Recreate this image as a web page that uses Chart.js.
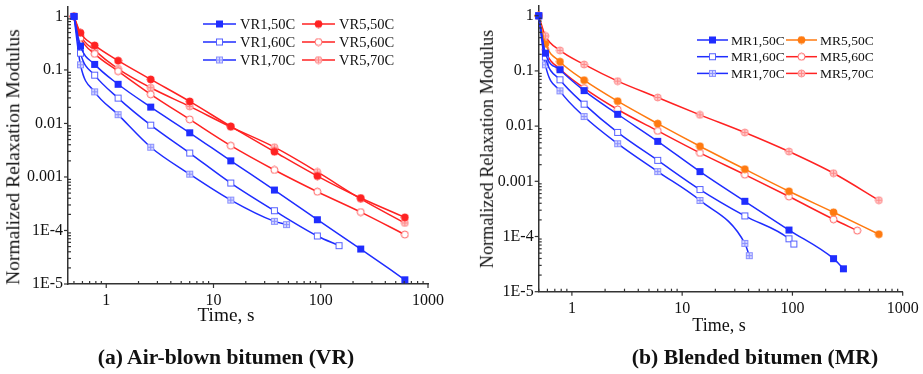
<!DOCTYPE html>
<html>
<head>
<meta charset="utf-8">
<script src="https://cdn.jsdelivr.net/npm/chart.js@4.4.1/dist/chart.umd.min.js"></script>
<style>
  body { margin: 0; width: 923px; height: 374px; background: #fff; position: relative; overflow: hidden;
         font-family: "Liberation Serif", "Times New Roman", serif; color: #111; }
  canvas { position: absolute; top: 0; }
  .lbl { position: absolute; white-space: nowrap; transform: translate(-50%, -50%); line-height: 1; }
  .rot { transform: translate(-50%, -50%) rotate(-90deg); }
  .cap { font-weight: bold; }
</style>
</head>
<body>
<canvas id="vrChart" width="460" height="312" style="left:0"></canvas>
<canvas id="mrChart" width="463" height="320" style="left:460px"></canvas>

<div class="lbl rot" style="left:13px;top:157px;font-size:19.5px">Normalized Relaxation Modulus</div>
<div class="lbl" style="left:226px;top:315px;font-size:19.3px">Time, s</div>
<div class="lbl cap" style="left:226px;top:358px;font-size:21.6px">(a) Air-blown bitumen (VR)</div>

<div class="lbl rot" style="left:487px;top:149px;font-size:18.2px">Normalized Relaxation Modulus</div>
<div class="lbl" style="left:719px;top:325px;font-size:18px">Time, s</div>
<div class="lbl cap" style="left:755px;top:358px;font-size:21.7px">(b) Blended bitumen (MR)</div>

<script>
// ---- data (time in s, normalized modulus) ----
const times = [0.5, 0.575, 0.78, 1.29, 2.6, 6, 14.5, 37, 93, 236, 608];

// (a) air-blown bitumen
const VR1_50C = [1, 0.28, 0.127, 0.054, 0.0202, 0.0067, 0.0020, 0.00057, 1.59e-4, 4.5e-5, 1.2e-5];
const VR1_60C_t = [0.5, 0.575, 0.78, 1.29, 2.6, 6, 14.5, 37, 93, 148];
const VR1_60C = [1, 0.206, 0.080, 0.0298, 0.0093, 0.0028, 7.7e-4, 2.34e-4, 7.9e-5, 5.2e-5];
const VR1_70C_t = [0.5, 0.575, 0.78, 1.29, 2.6, 6, 14.5, 37, 48];
const VR1_70C = [1, 0.125, 0.039, 0.0146, 0.0036, 0.00113, 3.7e-4, 1.48e-4, 1.29e-4];
const VR5_50C = [1, 0.495, 0.287, 0.149, 0.0666, 0.0258, 0.0088, 0.00296, 0.00104, 4.04e-4, 1.76e-4];
const VR5_60C = [1, 0.40, 0.20, 0.095, 0.035, 0.0119, 0.00384, 0.00135, 5.3e-4, 2.21e-4, 8.4e-5];
const VR5_70C = [1, 0.44, 0.232, 0.105, 0.0465, 0.0208, 0.0086, 0.0036, 0.00124, 3.9e-4, 1.38e-4];

// (b) blended bitumen
const MR1_50C_t = [0.5, 0.575, 0.78, 1.29, 2.6, 6, 14.5, 37, 93, 236, 290];
const MR1_50C = [1, 0.21, 0.105, 0.044, 0.0164, 0.0053, 0.0015, 4.35e-4, 1.31e-4, 3.97e-5, 2.6e-5];
const MR1_60C_t = [0.5, 0.575, 0.78, 1.29, 2.6, 6, 14.5, 37, 93, 103];
const MR1_60C = [1, 0.178, 0.069, 0.025, 0.0077, 0.0024, 7.1e-4, 2.36e-4, 9.1e-5, 7.3e-5];
const MR1_70C_t = [0.5, 0.575, 0.78, 1.29, 2.6, 6, 14.5, 37, 40.6];
const MR1_70C = [1, 0.129, 0.0435, 0.0149, 0.0048, 0.0015, 4.5e-4, 7.5e-5, 4.5e-5];
const MR5_50C = [1, 0.31, 0.147, 0.068, 0.0283, 0.0111, 0.00432, 0.00166, 6.6e-4, 2.75e-4, 1.1e-4];
const MR5_60C_t = [0.5, 0.575, 0.78, 1.29, 2.6, 6, 14.5, 37, 93, 236, 387];
const MR5_60C = [1, 0.245, 0.109, 0.0488, 0.02, 0.0082, 0.00327, 0.00132, 5.3e-4, 2.05e-4, 1.28e-4];
const MR5_70C = [1, 0.43, 0.235, 0.131, 0.0653, 0.033, 0.016, 0.00766, 0.00346, 0.0014, 4.54e-4];

const xTickValues = [1, 10, 100, 1000];
const xTickLabels = ['1', '10', '100', '1000'];
const yTickValues = [1e-5, 1e-4, 1e-3, 1e-2, 0.1, 1];
const yTickLabels = ['1E-5', '1E-4', '0.001', '0.01', '0.1', '1'];

// ---- styling ----
const BLUE = '#1f2dff', RED = '#ff2222', ORANGE = '#ff7a10';

function marker(shape, fill, stroke, cross) {
  const c = document.createElement('canvas');
  c.width = c.height = 9;
  const g = c.getContext('2d');
  g.lineWidth = 1;
  g.fillStyle = fill;
  g.strokeStyle = stroke;
  if (shape === 'square') {
    g.fillRect(1, 1, 7, 7);
    g.strokeRect(1.5, 1.5, 6, 6);
  } else {
    g.beginPath();
    g.arc(4.5, 4.5, 3.5, 0, Math.PI * 2);
    g.fill();
    g.stroke();
  }
  if (cross) {
    g.beginPath();
    g.moveTo(4.5, 1.5); g.lineTo(4.5, 7.5);
    g.moveTo(1.5, 4.5); g.lineTo(7.5, 4.5);
    g.stroke();
  }
  return c;
}

function series(label, xs, ys, color, pt) {
  return {
    label: label,
    data: xs.map((t, i) => ({ x: t, y: ys[i] })),
    borderColor: color,
    backgroundColor: color,
    borderWidth: 1.5,
    pointStyle: pt,
    pointRadius: 4,
    cubicInterpolationMode: 'monotone',
    clip: false
  };
}

// tick marks: majors outward, minors inward
const axisDecor = {
  id: 'axisDecor',
  afterDraw(chart) {
    const { ctx, chartArea: a, scales: { x, y } } = chart;
    ctx.save();
    ctx.strokeStyle = '#333';
    ctx.lineWidth = 1.2;
    for (let e = -1; e <= 3; e++) {
      for (let m = 1; m < 10; m++) {
        const v = m * Math.pow(10, e);
        if (v < x.min - 1e-9 || v > x.max + 1e-9) continue;
        const px = x.getPixelForValue(v);
        ctx.beginPath();
        ctx.moveTo(px, a.bottom);
        ctx.lineTo(px, m === 1 ? a.bottom + 4 : a.bottom - 3);
        ctx.stroke();
      }
    }
    for (let e = -5; e <= 0; e++) {
      for (let m = 1; m < 10; m++) {
        const v = m * Math.pow(10, e);
        if (v < y.min * 0.999 || v > y.max) continue;
        const py = y.getPixelForValue(v);
        ctx.beginPath();
        ctx.moveTo(a.left, py);
        ctx.lineTo(m === 1 ? a.left - 4 : a.left + 3, py);
        ctx.stroke();
      }
    }
    ctx.restore();
  }
};

// two-column legend inside the plot
const boxLegend = {
  id: 'boxLegend',
  afterDraw(chart, args, opts) {
    const ctx = chart.ctx;
    ctx.save();
    ctx.font = opts.font;
    ctx.fillStyle = '#111';
    ctx.textBaseline = 'middle';
    chart.data.datasets.forEach((ds, i) => {
      const col = Math.floor(i / 3), row = i % 3;
      const x0 = opts.x[col], y0 = opts.y0 + row * opts.dy;
      ctx.strokeStyle = ds.borderColor;
      ctx.lineWidth = ds.borderWidth;
      ctx.beginPath();
      ctx.moveTo(x0, y0);
      ctx.lineTo(x0 + opts.len, y0);
      ctx.stroke();
      const img = ds.pointStyle;
      ctx.drawImage(img, x0 + opts.len / 2 - img.width / 2, y0 - img.height / 2);
      ctx.fillText(ds.label, x0 + opts.len + opts.gap, y0 + 1);
    });
    ctx.restore();
  }
};

function makeChart(id, datasets, xMin, yWidth, xHeight, padding, legend) {
  return new Chart(document.getElementById(id), {
    type: 'line',
    data: { datasets: datasets },
    options: {
      responsive: false,
      animation: false,
      devicePixelRatio: 1,
      layout: { padding: padding },
      plugins: { legend: { display: false }, tooltip: { enabled: false }, boxLegend: legend },
      scales: {
        x: {
          type: 'logarithmic',
          min: xMin, max: 1000,
          grid: { display: false, drawTicks: false },
          border: { display: true, color: '#333', width: 1.5 },
          afterBuildTicks: s => { s.ticks = xTickValues.map(v => ({ value: v })); },
          afterFit: s => { s.height = xHeight; s.paddingLeft = 0; s.paddingRight = 0; },
          ticks: {
            autoSkip: false, maxRotation: 0, padding: 7, color: '#111',
            font: { family: 'Liberation Serif', size: 16 },
            callback: v => xTickLabels[xTickValues.indexOf(v)]
          }
        },
        y: {
          type: 'logarithmic',
          min: 1e-5, max: 1.5,
          grid: { display: false, drawTicks: false },
          border: { display: true, color: '#333', width: 1.5 },
          afterBuildTicks: s => { s.ticks = yTickValues.map(v => ({ value: v })); },
          afterFit: s => { s.width = yWidth; s.paddingTop = 0; s.paddingBottom = 0; },
          ticks: {
            autoSkip: false, padding: 5, color: '#111',
            font: { family: 'Liberation Serif', size: 16 },
            callback: v => yTickLabels[yTickValues.indexOf(v)]
          }
        }
      }
    },
    plugins: [axisDecor, boxLegend]
  });
}

makeChart('vrChart', [
  series('VR1,50C', times, VR1_50C, BLUE, marker('square', BLUE, BLUE, false)),
  series('VR1,60C', VR1_60C_t, VR1_60C, BLUE, marker('square', '#fff', '#5560ff', false)),
  series('VR1,70C', VR1_70C_t, VR1_70C, BLUE, marker('square', '#d4d6ff', '#8a90ff', true)),
  series('VR5,50C', times, VR5_50C, RED, marker('circle', RED, RED, false)),
  series('VR5,60C', times, VR5_60C, RED, marker('circle', '#fff', '#ff6060', false)),
  series('VR5,70C', times, VR5_70C, RED, marker('circle', '#ffc8c8', '#ff8a8a', true))
], 0.44, 68, 28, { top: 7, right: 32, left: 0, bottom: 0 },
  { x: [203, 302], y0: 24, dy: 18, len: 33, gap: 4, font: '14.5px "Liberation Serif"' });

makeChart('mrChart', [
  series('MR1,50C', MR1_50C_t, MR1_50C, BLUE, marker('square', BLUE, BLUE, false)),
  series('MR1,60C', MR1_60C_t, MR1_60C, BLUE, marker('square', '#fff', '#5560ff', false)),
  series('MR1,70C', MR1_70C_t, MR1_70C, BLUE, marker('square', '#d4d6ff', '#8a90ff', true)),
  series('MR5,50C', times, MR5_50C, ORANGE, marker('circle', ORANGE, ORANGE, false)),
  series('MR5,60C', MR5_60C_t, MR5_60C, RED, marker('circle', '#fff', '#ff6060', false)),
  series('MR5,70C', times, MR5_70C, RED, marker('circle', '#ffc8c8', '#ff8a8a', true))
], 0.5, 78.7, 28.3, { top: 6, right: 20.3, left: 0, bottom: 0 },
  { x: [237, 326], y0: 40, dy: 16.7, len: 31, gap: 3, font: '13.5px "Liberation Serif"' });
</script>
</body>
</html>
